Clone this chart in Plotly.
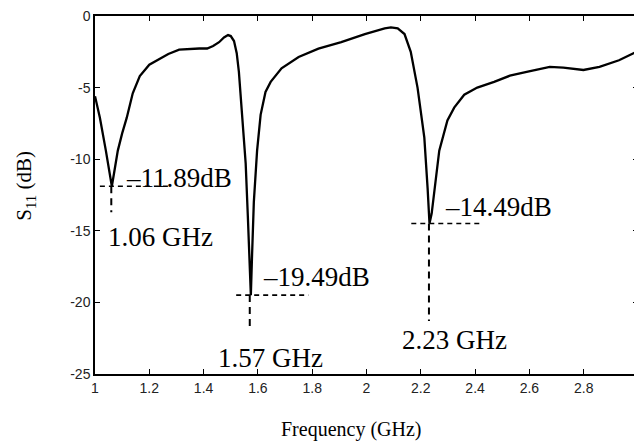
import plotly.graph_objects as go

freq = [1.000, 1.018, 1.040, 1.055, 1.062, 1.070, 1.084, 1.100, 1.117, 1.139,
        1.165, 1.200, 1.238, 1.270, 1.310, 1.350, 1.384, 1.413, 1.435, 1.457,
        1.475, 1.490, 1.500, 1.512, 1.522, 1.530, 1.541, 1.555, 1.563, 1.570,
        1.574, 1.578, 1.585, 1.597, 1.610, 1.628, 1.647, 1.687, 1.750, 1.823,
        1.907, 1.994, 2.040, 2.067, 2.090, 2.115, 2.140, 2.163, 2.188, 2.213,
        2.225, 2.232, 2.240, 2.250, 2.260, 2.268, 2.298, 2.323, 2.360, 2.408,
        2.470, 2.528, 2.590, 2.675, 2.725, 2.799, 2.858, 2.930, 3.000]
s11 = [-5.6, -7.1, -9.4, -11.3, -11.89, -11.0, -9.4, -8.2, -7.1, -5.4,
       -4.2, -3.4, -3.0, -2.65, -2.35, -2.28, -2.27, -2.27, -2.1, -1.83,
       -1.5, -1.33, -1.4, -1.75, -2.6, -3.9, -6.6, -10.3, -14.0, -18.0,
       -19.49, -17.0, -13.0, -9.4, -6.9, -5.3, -4.6, -3.65, -2.86, -2.28,
       -1.83, -1.26, -1.0, -0.86, -0.8, -0.86, -1.26, -2.5, -5.0, -8.5,
       -12.0, -14.49, -13.8, -12.3, -10.8, -9.4, -7.3, -6.4, -5.5, -5.0,
       -4.6, -4.17, -3.9, -3.55, -3.6, -3.77, -3.55, -3.09, -2.45]

# Resonances
res_freq = [1.06, 1.57, 2.23]
res_db = [-11.89, -19.49, -14.49]
res_freq_labels = ["1.06 GHz", "1.57 GHz", "2.23 GHz"]
res_db_labels = ["\u201311.89dB", "\u201319.49dB", "\u201314.49dB"]

x_ticks = [1, 1.2, 1.4, 1.6, 1.8, 2, 2.2, 2.4, 2.6, 2.8, 3]
x_tick_text = ["1", "1.2", "1.4", "1.6", "1.8", "2", "2.2", "2.4", "2.6", "2.8", "3"]
y_ticks = [0, -5, -10, -15, -20, -25]
y_tick_text = ["0", "-5", "-10", "-15", "-20", "-25"]

# marker geometry (offsets relative to each resonance)
h_left = [0.042, 0.05, 0.065]
h_right = [0.22, 0.216, 0.196]
v_bottom = [-13.7, -22.0, -21.3]
db_lab_pos = [(1.108, -11.3), (1.612, -18.25), (2.281, -13.35)]
f_lab_pos = [(1.241, -15.45), (1.647, -23.85), (2.325, -22.65)]

fig = go.Figure()
fig.add_trace(go.Scatter(x=freq, y=s11, mode="lines",
                         line=dict(color="black", width=2.3),
                         showlegend=False, hoverinfo="skip"))

for i in range(len(res_freq)):
    f, d = res_freq[i], res_db[i]
    fig.add_trace(go.Scatter(x=[f - h_left[i], f + h_right[i]], y=[d, d], mode="lines",
                             line=dict(color="black", width=1.6, dash="5px,4px"),
                             showlegend=False, hoverinfo="skip"))
    fig.add_trace(go.Scatter(x=[f, f], y=[d, v_bottom[i]], mode="lines",
                             line=dict(color="black", width=2, dash="7px,5px"),
                             showlegend=False, hoverinfo="skip"))
    fig.add_annotation(x=db_lab_pos[i][0], y=db_lab_pos[i][1], xref="x", yref="y",
                       text=res_db_labels[i], showarrow=False, xanchor="left",
                       yanchor="middle",
                       font=dict(family="Liberation Serif", size=27, color="black"))
    fig.add_annotation(x=f_lab_pos[i][0], y=f_lab_pos[i][1], xref="x", yref="y",
                       text=res_freq_labels[i], showarrow=False, xanchor="center",
                       yanchor="middle",
                       font=dict(family="Liberation Serif", size=27, color="black"))

# invisible trace to activate right-side y ticks
fig.add_trace(go.Scatter(x=[1], y=[0], yaxis="y2", mode="markers",
                         marker=dict(opacity=0), showlegend=False, hoverinfo="skip"))

tickfont = dict(family="Liberation Sans", size=14, color="#222")
fig.update_layout(
    width=634, height=435,
    margin=dict(l=87, r=0, t=2, b=69),
    paper_bgcolor="white", plot_bgcolor="white",
    xaxis=dict(range=[1, 3], tickvals=x_ticks, ticktext=x_tick_text,
               showline=True, linecolor="black", linewidth=1.5, mirror="ticks",
               ticks="inside", ticklen=5, tickcolor="black", tickwidth=1,
               showgrid=False, zeroline=False, tickfont=tickfont,
               ticklabeloverflow="allow"),
    yaxis=dict(range=[-25, 0], tickvals=y_ticks, ticktext=y_tick_text,
               showline=True, linecolor="black", linewidth=1.5, mirror=False,
               ticks="inside", ticklen=5, tickcolor="black", tickwidth=1,
               showgrid=False, zeroline=False, tickfont=tickfont,
               ticklabeloverflow="allow"),
    yaxis2=dict(range=[-25, 0], overlaying="y", side="right", tickvals=y_ticks,
                showticklabels=False, ticks="inside", ticklen=5, tickcolor="black",
                showline=False, showgrid=False, zeroline=False),
)

fig.add_annotation(x=(353 - 95) / 547, y=(374 - 430) / 364, xref="paper", yref="paper",
                   text="Frequency (GHz)", showarrow=False,
                   xanchor="center", yanchor="middle",
                   font=dict(family="Liberation Serif", size=20, color="black"))
fig.add_annotation(x=(25 - 95) / 547, y=(374 - 183) / 364, xref="paper", yref="paper",
                   text="S<sub>11</sub> (dB)", showarrow=False, textangle=-90,
                   xanchor="center", yanchor="middle",
                   font=dict(family="Liberation Serif", size=21, color="black"))

fig.write_html("out.html")
